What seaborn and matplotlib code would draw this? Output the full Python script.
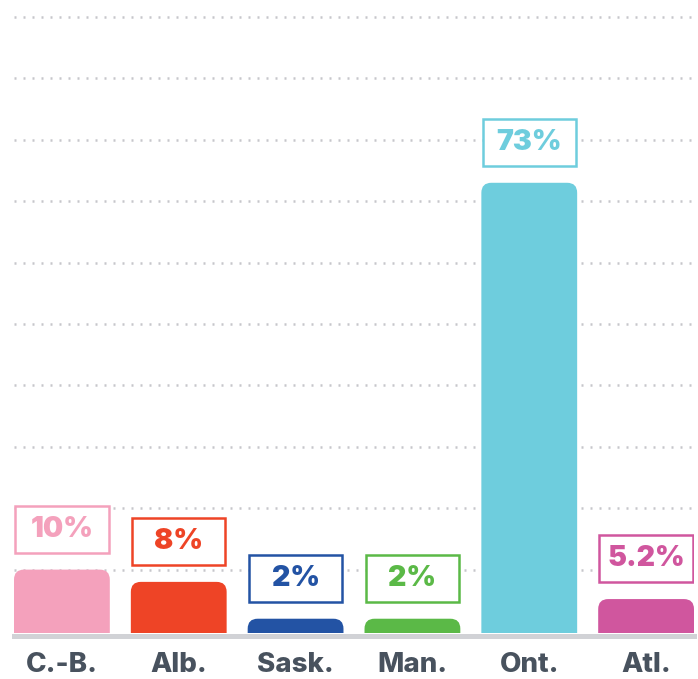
import numpy as np
import pandas as pd
import seaborn as sns
import matplotlib.pyplot as plt
from matplotlib.patches import FancyBboxPatch, Rectangle

# donnees
provinces = ["C.-B.", "Alb.", "Sask.", "Man.", "Ont.", "Atl."]
parts = [10, 8, 2, 2, 73, 5.2]
etiquettes = ["10%", "8%", "2%", "2%", "73%", "5.2%"]
couleurs = ["#f4a1bc", "#ee4426", "#2353a4", "#5bb947", "#6ecddd", "#d0569e"]

df = pd.DataFrame({"province": provinces, "part": parts})

sns.set_style("white")
plt.rcParams['font.family'] = ['Inter', 'DejaVu Sans']

fig = plt.figure(figsize=(6.98, 6.79), dpi=100)
ax = fig.add_axes([14 / 698, 46 / 679, 680 / 698, 633 / 679])

sns.barplot(data=df, x="province", y="part", hue="province", palette=couleurs,
            legend=False, width=0.82, saturation=1, ax=ax)

# echelle : 6.14 px par point de pourcentage, zero a 631 px du haut
s = 6.14
ax.set_xlim(-0.41, 5.41)
ax.set_ylim(-2 / s, 631 / s)

# grille pointillee
ax.set_yticks(np.arange(10, 101, 10))
ax.yaxis.grid(True, color="#c6c6cb", linewidth=1.8, linestyle=(0, (0.8, 2.8)))
ax.set_axisbelow(True)
ax.tick_params(axis="y", length=0, labelleft=False)
ax.tick_params(axis="x", length=0, pad=12, labelsize=20, labelcolor="#48525e")
ax.set_xlabel("")
ax.set_ylabel("")

for sp in ["left", "right", "top"]:
    ax.spines[sp].set_visible(False)
ax.spines["bottom"].set_color("#d1d2d6")
ax.spines["bottom"].set_linewidth(3.6)
ax.spines["bottom"].set_position(("outward", 1.8))

# barres a coins arrondis + etiquettes encadrees
px_x = 680 / 5.82
r = 10 / px_x
aspect = (10 / s) / r
for patch, lab, c in zip(ax.patches, etiquettes, couleurs):
    x0 = patch.get_x()
    w = patch.get_width()
    h = patch.get_height()
    patch.set_visible(False)
    ax.add_patch(FancyBboxPatch((x0, -4), w, h + 4,
                                boxstyle=f"round,pad=0,rounding_size={r}",
                                mutation_aspect=aspect, facecolor=c,
                                edgecolor="none", zorder=2))
    b0 = h + 17 / s
    bh = 47 / s
    ax.add_patch(Rectangle((x0 + 0.01, b0), w - 0.02, bh, facecolor="white",
                           edgecolor=c, linewidth=1.8, zorder=3))
    ax.text(x0 + w / 2, b0 + bh / 2, lab, ha="center", va="center",
            color=c, fontsize=20.5, fontweight=900, zorder=4)

fig.canvas.draw()
for t in ax.get_xticklabels():
    t.set_fontweight(800)

fig.savefig("out.png", dpi=100, facecolor="white")
